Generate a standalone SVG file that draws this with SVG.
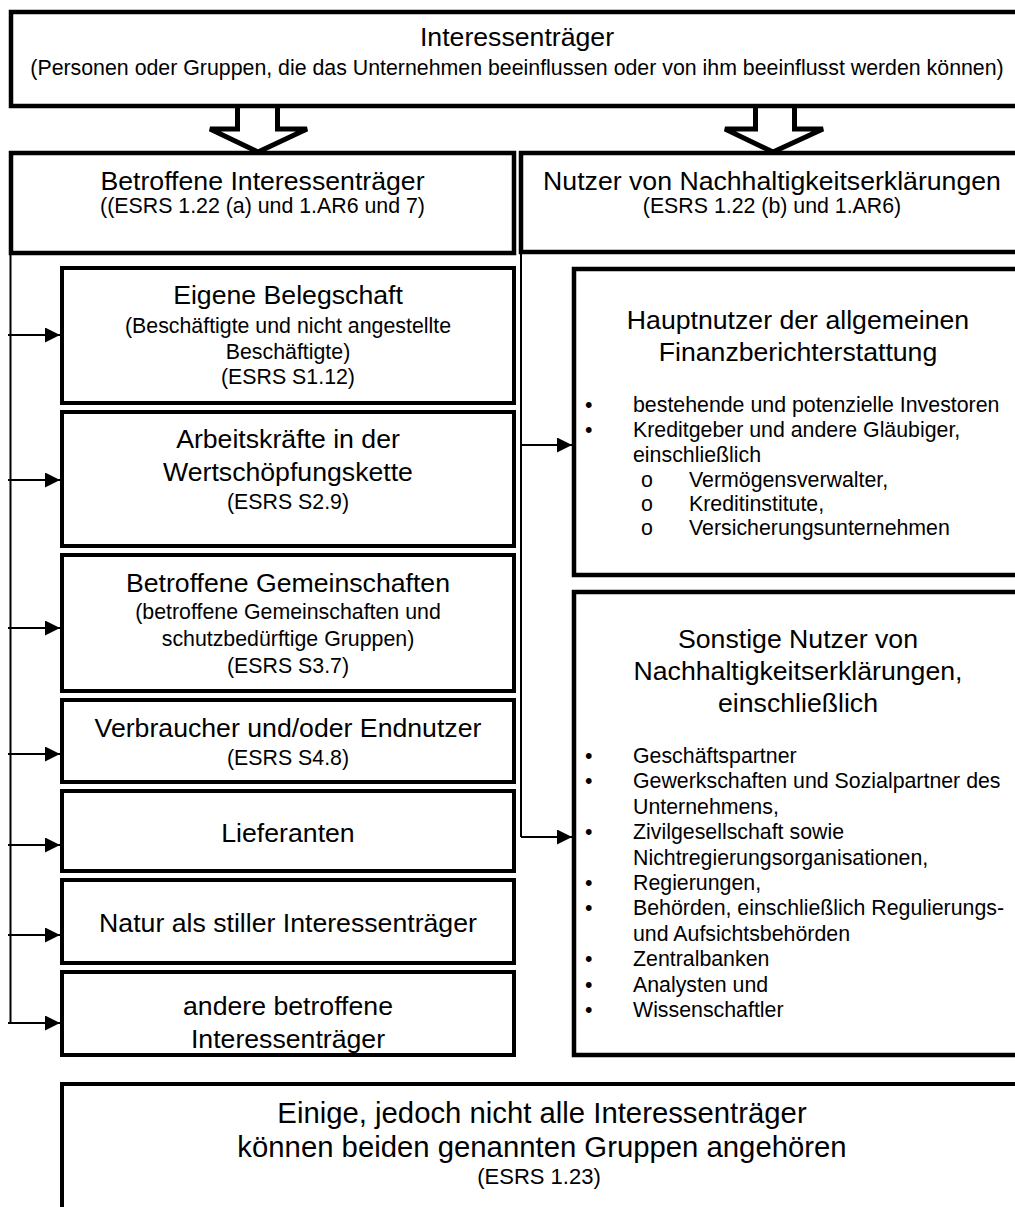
<svg xmlns="http://www.w3.org/2000/svg" width="1015" height="1207" viewBox="0 0 1015 1207">
<style>
text{font-family:"Liberation Sans",Arial,sans-serif;fill:#000}
.t{font-size:26.67px;text-anchor:middle}
.s{font-size:21.33px;text-anchor:middle}
.b{font-size:21.33px}
.big{font-size:29.3px;text-anchor:middle}
.box{fill:#fff;stroke:#000;stroke-width:4}
.boxh{fill:#fff;stroke:#000;stroke-width:4.5}
.hollow{fill:#fff;stroke:#000;stroke-width:5;stroke-linejoin:miter}
.con{fill:none;stroke:#000;stroke-width:2}
</style>
<defs>
<marker id="ah" markerUnits="userSpaceOnUse" markerWidth="15" markerHeight="15" refX="15" refY="7.5" orient="auto">
<path d="M0,0 L15,7.5 L0,15 Z" fill="#000"/>
</marker>
</defs>
<rect width="1015" height="1207" fill="#fff"/>

<g id="connectors">
<polyline class="hollow" points="237.5,106 237.5,129 210,129 258,152 307,129 277.5,129 277.5,106"/>
<polyline class="hollow" points="755.5,106 755.5,129 725,129 773,152 823,129 794.5,129 794.5,106"/>
<line class="con" x1="10.5" y1="255" x2="10.5" y2="1023"/>
<line class="con" x1="8" y1="335" x2="60" y2="335" marker-end="url(#ah)"/>
<line class="con" x1="8" y1="480" x2="60" y2="480" marker-end="url(#ah)"/>
<line class="con" x1="8" y1="628" x2="60" y2="628" marker-end="url(#ah)"/>
<line class="con" x1="8" y1="754" x2="60" y2="754" marker-end="url(#ah)"/>
<line class="con" x1="8" y1="845" x2="60" y2="845" marker-end="url(#ah)"/>
<line class="con" x1="8" y1="935" x2="60" y2="935" marker-end="url(#ah)"/>
<line class="con" x1="8" y1="1023" x2="60" y2="1023" marker-end="url(#ah)"/>
<line class="con" x1="521" y1="254" x2="521" y2="837"/>
<line class="con" x1="521" y1="445" x2="572" y2="445" marker-end="url(#ah)"/>
<line class="con" x1="521" y1="837" x2="572" y2="837" marker-end="url(#ah)"/>
</g>

<g id="top">
<rect class="boxh" x="11" y="12" width="1013" height="94"/>
<text class="t" x="517" y="46">Interessenträger</text>
<text class="s" x="517" y="75">(Personen oder Gruppen, die das Unternehmen beeinflussen oder von ihm beeinflusst werden können)</text>
</g>

<g id="affected">
<rect class="boxh" x="11" y="153" width="503" height="100"/>
<text class="t" x="262.5" y="190">Betroffene Interessenträger</text>
<text class="s" x="262.5" y="213">((ESRS 1.22 (a) und 1.AR6 und 7)</text>
</g>

<g id="users">
<rect class="boxh" x="521" y="153" width="502" height="99"/>
<text class="t" x="772" y="190">Nutzer von Nachhaltigkeitserklärungen</text>
<text class="s" x="772" y="213">(ESRS 1.22 (b) und 1.AR6)</text>
</g>

<g id="own-workforce">
<rect class="box" x="62" y="268" width="452" height="135"/>
<text class="t" x="288" y="304">Eigene Belegschaft</text>
<text class="s" x="288" y="333">(Beschäftigte und nicht angestellte</text>
<text class="s" x="288" y="359">Beschäftigte)</text>
<text class="s" x="288" y="384">(ESRS S1.12)</text>
</g>

<g id="value-chain-workers">
<rect class="box" x="62" y="412" width="452" height="134"/>
<text class="t" x="288" y="448">Arbeitskräfte in der</text>
<text class="t" x="288" y="481">Wertschöpfungskette</text>
<text class="s" x="288" y="509">(ESRS S2.9)</text>
</g>

<g id="communities">
<rect class="box" x="62" y="555" width="452" height="136"/>
<text class="t" x="288" y="592">Betroffene Gemeinschaften</text>
<text class="s" x="288" y="619">(betroffene Gemeinschaften und</text>
<text class="s" x="288" y="646">schutzbedürftige Gruppen)</text>
<text class="s" x="288" y="673">(ESRS S3.7)</text>
</g>

<g id="consumers">
<rect class="box" x="62" y="700" width="452" height="82"/>
<text class="t" x="288" y="737">Verbraucher und/oder Endnutzer</text>
<text class="s" x="288" y="765">(ESRS S4.8)</text>
</g>

<g id="suppliers">
<rect class="box" x="62" y="791" width="452" height="80"/>
<text class="t" x="288" y="842">Lieferanten</text>
</g>

<g id="nature">
<rect class="box" x="62" y="880" width="452" height="83"/>
<text class="t" x="288" y="932">Natur als stiller Interessenträger</text>
</g>

<g id="other-affected">
<rect x="62" y="972" width="452" height="83" fill="#fff"/>
<text class="t" x="288" y="1015">andere betroffene</text>
<text class="t" x="288" y="1048">Interessenträger</text>
<rect x="62" y="972" width="452" height="83" fill="none" stroke="#000" stroke-width="4"/>
</g>

<g id="primary-users">
<rect class="boxh" x="574" y="269" width="460" height="306"/>
<text class="t" x="798" y="329">Hauptnutzer der allgemeinen</text>
<text class="t" x="798" y="361">Finanzberichterstattung</text>
<text class="b" x="585" y="412">•</text>
<text class="b" x="633" y="412">bestehende und potenzielle Investoren</text>
<text class="b" x="585" y="437">•</text>
<text class="b" x="633" y="437">Kreditgeber und andere Gläubiger,</text>
<text class="b" x="633" y="462">einschließlich</text>
<text class="b" x="641" y="487">o</text>
<text class="b" x="689" y="487">Vermögensverwalter,</text>
<text class="b" x="641" y="511">o</text>
<text class="b" x="689" y="511">Kreditinstitute,</text>
<text class="b" x="641" y="535">o</text>
<text class="b" x="689" y="535">Versicherungsunternehmen</text>
</g>

<g id="other-users">
<rect class="boxh" x="574" y="592" width="460" height="463"/>
<text class="t" x="798" y="648">Sonstige Nutzer von</text>
<text class="t" x="798" y="680">Nachhaltigkeitserklärungen,</text>
<text class="t" x="798" y="712">einschließlich</text>
<text class="b" x="585" y="763">•</text>
<text class="b" x="633" y="763">Geschäftspartner</text>
<text class="b" x="585" y="788">•</text>
<text class="b" x="633" y="788">Gewerkschaften und Sozialpartner des</text>
<text class="b" x="633" y="814">Unternehmens,</text>
<text class="b" x="585" y="839">•</text>
<text class="b" x="633" y="839">Zivilgesellschaft sowie</text>
<text class="b" x="633" y="865">Nichtregierungsorganisationen,</text>
<text class="b" x="585" y="890">•</text>
<text class="b" x="633" y="890">Regierungen,</text>
<text class="b" x="585" y="915">•</text>
<text class="b" x="633" y="915">Behörden, einschließlich Regulierungs-</text>
<text class="b" x="633" y="941">und Aufsichtsbehörden</text>
<text class="b" x="585" y="966">•</text>
<text class="b" x="633" y="966">Zentralbanken</text>
<text class="b" x="585" y="992">•</text>
<text class="b" x="633" y="992">Analysten und</text>
<text class="b" x="585" y="1017">•</text>
<text class="b" x="633" y="1017">Wissenschaftler</text>
</g>

<g id="both-groups">
<rect class="box" x="62" y="1084" width="1000" height="200"/>
<text class="big" x="542" y="1123">Einige, jedoch nicht alle Interessenträger</text>
<text class="big" x="542" y="1157">können beiden genannten Gruppen angehören</text>
<text class="s" x="539" y="1184" style="font-size:22px">(ESRS 1.23)</text>
</g>
</svg>
